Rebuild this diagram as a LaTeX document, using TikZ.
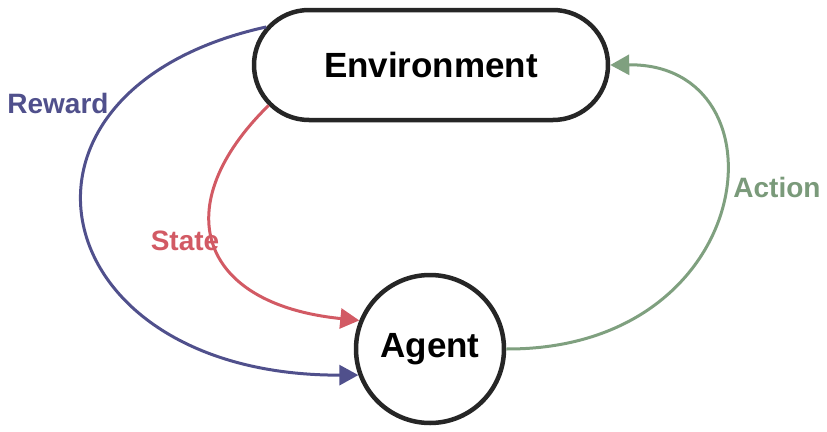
\documentclass[tikz,border=0pt]{standalone}
\usepackage{fontspec}
\setmainfont{Liberation Sans}
\usetikzlibrary{shapes.misc,arrows.meta}
\definecolor{rewardcol}{HTML}{50508C}
\definecolor{statecol}{HTML}{D25A64}
\definecolor{actioncol}{HTML}{7FA07F}
\definecolor{actiontxt}{HTML}{7A9A7A}
\begin{document}
\begin{tikzpicture}[x=1pt,y=-1pt,
  boxnode/.style={draw=black!85,line width=4.5pt,fill=white,inner sep=0pt,
     font=\fontsize{35}{40}\selectfont\bfseries},
  lbl/.style={inner sep=0pt,font=\fontsize{28}{32}\selectfont\bfseries},
  edge/.style={line width=3pt,-{Triangle[length=19pt,width=20pt]}}]
\useasboundingbox (0,0) rectangle (827,431);
\node[boxnode,rounded rectangle,minimum width=354pt,minimum height=110pt] (env) at (431,65) {Environment};
\node[boxnode,circle,minimum size=148pt] (agent) at (430,349) {Agent};
\node[lbl,text=rewardcol] (rw) at (58,103) {Reward};
\node[lbl,text=statecol] (st) at (185,241) {State};
\node[lbl,text=actiontxt] (ac) at (777,187) {Action};
\draw[edge,rewardcol] (env.167) .. controls (-20,90) and (40,376) .. (agent.200);
\draw[edge,statecol] (env.194) .. controls (167,205) and (197,304) .. (agent.158);
\draw[edge,actioncol] (agent.east) .. controls (760,350) and (790,63) .. (env.east);
\end{tikzpicture}
\end{document}
